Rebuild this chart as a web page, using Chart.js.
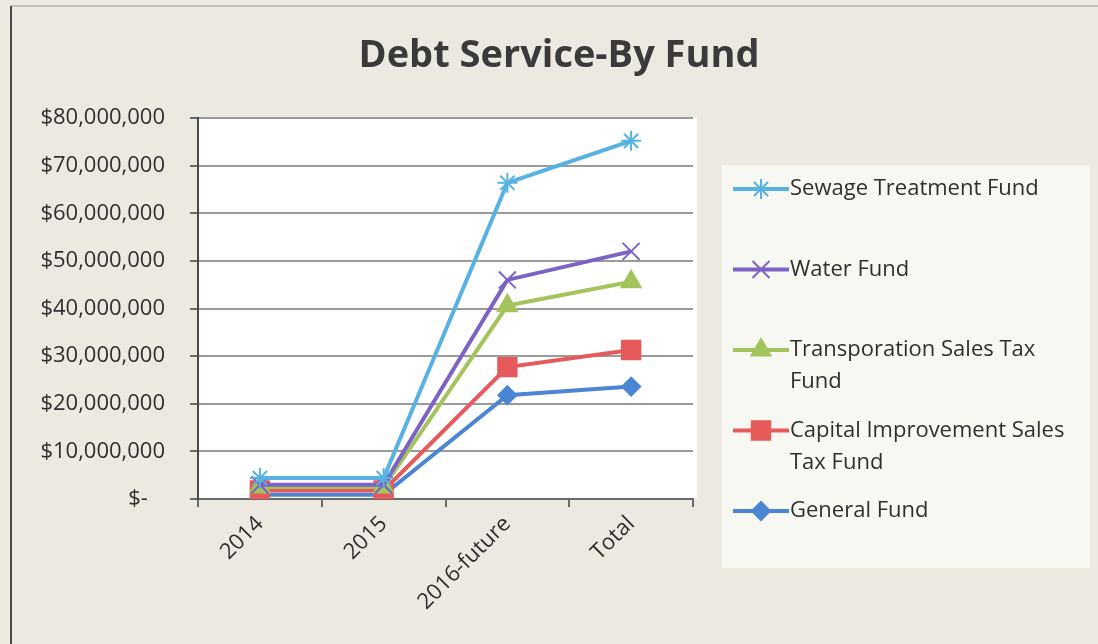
<!DOCTYPE html>
<html>
<head>
<meta charset="utf-8">
<title>Debt Service-By Fund</title>
<script src="https://cdn.jsdelivr.net/npm/chart.js@4/dist/chart.umd.min.js"></script>
<style>
  html, body { margin: 0; padding: 0; background: #ece9e1; }
  #wrap { width: 1098px; height: 644px; position: relative; }
</style>
</head>
<body>
<div id="wrap"><canvas id="debt-chart"></canvas></div>
<script>
// Periods and debt service per fund (dollars)
const categories = ['2014', '2015', '2016-future', 'Total'];
const sewageFund = [4400000, 4400000, 66400000, 75200000];
const waterFund = [3000000, 3000000, 46000000, 52000000];
const transportFund = [2500000, 2500000, 40600000, 45600000];
const capitalFund = [1800000, 1800000, 27700000, 31300000];
const generalFund = [900000, 900000, 21800000, 23600000];
const yMax = 80000000;
const yStep = 10000000;

// Legend text, already broken into lines
const legendLines = [
    ['Sewage Treatment Fund'],
    ['Water Fund'],
    ['Transporation Sales Tax', 'Fund'],
    ['Capital Improvement Sales', 'Tax Fund'],
    ['General Fund']
];

const FONT = '"Open Sans", "Liberation Sans", sans-serif';
const TEXT = '#2f2f2f';

function series(label, data, color, style, radius) {
    return {
        label: label,
        data: data,
        borderColor: color,
        backgroundColor: color,
        borderWidth: 4,
        pointStyle: style,
        pointRadius: radius,
        pointBorderWidth: 2,
        pointBorderColor: color,
        pointBackgroundColor: color,
        tension: 0
    };
}

// Page background, frame and white plot area
const backdrop = {
    id: 'backdrop',
    beforeDraw(chart) {
        const ctx = chart.ctx;
        const a = chart.chartArea;
        ctx.save();
        ctx.fillStyle = '#ece9e1';
        ctx.fillRect(0, 0, chart.width, chart.height);
        ctx.strokeStyle = '#c4c2bc';
        ctx.lineWidth = 2;
        ctx.beginPath();
        ctx.moveTo(11, 6);
        ctx.lineTo(chart.width, 6);
        ctx.stroke();
        ctx.strokeStyle = '#4a4a4a';
        ctx.beginPath();
        ctx.moveTo(11, 6);
        ctx.lineTo(11, chart.height);
        ctx.stroke();
        ctx.fillStyle = '#ffffff';
        ctx.fillRect(a.left, a.top, a.right - a.left + 4, a.bottom - a.top);
        ctx.restore();
    }
};

// Title and the boxed legend on the right
const titleAndLegend = {
    id: 'titleAndLegend',
    afterDraw(chart) {
        const ctx = chart.ctx;
        ctx.save();
        ctx.fillStyle = '#3a3a3a';
        ctx.font = 'bold 38px ' + FONT;
        ctx.textAlign = 'center';
        ctx.textBaseline = 'alphabetic';
        ctx.fillText('Debt Service-By Fund', 559, 67);

        ctx.fillStyle = '#f8f8f3';
        ctx.fillRect(722, 165, 368, 403);

        ctx.font = '22px ' + FONT;
        ctx.textAlign = 'left';
        ctx.textBaseline = 'middle';
        chart.data.datasets.forEach((ds, i) => {
            const y = 189 + i * 80.5;
            ctx.strokeStyle = ds.borderColor;
            ctx.lineWidth = 4;
            ctx.beginPath();
            ctx.moveTo(733, y);
            ctx.lineTo(789, y);
            ctx.stroke();
            ctx.lineWidth = ds.pointBorderWidth;
            ctx.fillStyle = ds.pointBackgroundColor;
            Chart.helpers.drawPoint(ctx, {
                pointStyle: ds.pointStyle,
                radius: ds.pointRadius,
                rotation: 0,
                borderWidth: ds.pointBorderWidth
            }, 761, y);
            ctx.fillStyle = TEXT;
            legendLines[i].forEach((line, k) => {
                ctx.fillText(line, 790, y + k * 32);
            });
        });
        ctx.restore();
    }
};

new Chart(document.getElementById('debt-chart'), {
    type: 'line',
    data: {
        labels: categories,
        datasets: [
            series('Sewage Treatment Fund', sewageFund, '#57b2e4', 'star', 10),
            series('Water Fund', waterFund, '#7b62c4', 'crossRot', 12),
            series('Transporation Sales Tax Fund', transportFund, '#a2c45a', 'triangle', 11),
            series('Capital Improvement Sales Tax Fund', capitalFund, '#e65a5c', 'rect', 13),
            series('General Fund', generalFund, '#4a86d4', 'rectRot', 9)
        ]
    },
    options: {
        responsive: true,
        maintainAspectRatio: false,
        animation: false,
        layout: { padding: { top: 118, right: 405, left: 0, bottom: 0 } },
        plugins: {
            legend: { display: false },
            title: { display: false },
            tooltip: { enabled: false }
        },
        scales: {
            x: {
                offset: true,
                afterFit(scale) { scale.height = 145; },
                grid: {
                    offset: true,
                    drawOnChartArea: false,
                    drawTicks: true,
                    tickLength: 8,
                    color: '#6a6a6a',
                    lineWidth: 2
                },
                border: { color: '#6a6a6a', width: 2 },
                ticks: {
                    minRotation: 45,
                    maxRotation: 45,
                    padding: 4,
                    color: TEXT,
                    font: { family: FONT, size: 22 }
                }
            },
            y: {
                min: 0,
                max: yMax,
                afterFit(scale) { scale.width = 198; },
                grid: {
                    color: '#9a9a9a',
                    lineWidth: 2,
                    tickLength: 8,
                    tickColor: '#6a6a6a'
                },
                border: { color: '#4a4a4a', width: 2 },
                ticks: {
                    stepSize: yStep,
                    padding: 25,
                    color: TEXT,
                    font: { family: FONT, size: 22 },
                    callback: v => v === 0 ? '$-   ' : '$' + v.toLocaleString('en-US')
                }
            }
        }
    },
    plugins: [backdrop, titleAndLegend]
});
</script>
</body>
</html>
